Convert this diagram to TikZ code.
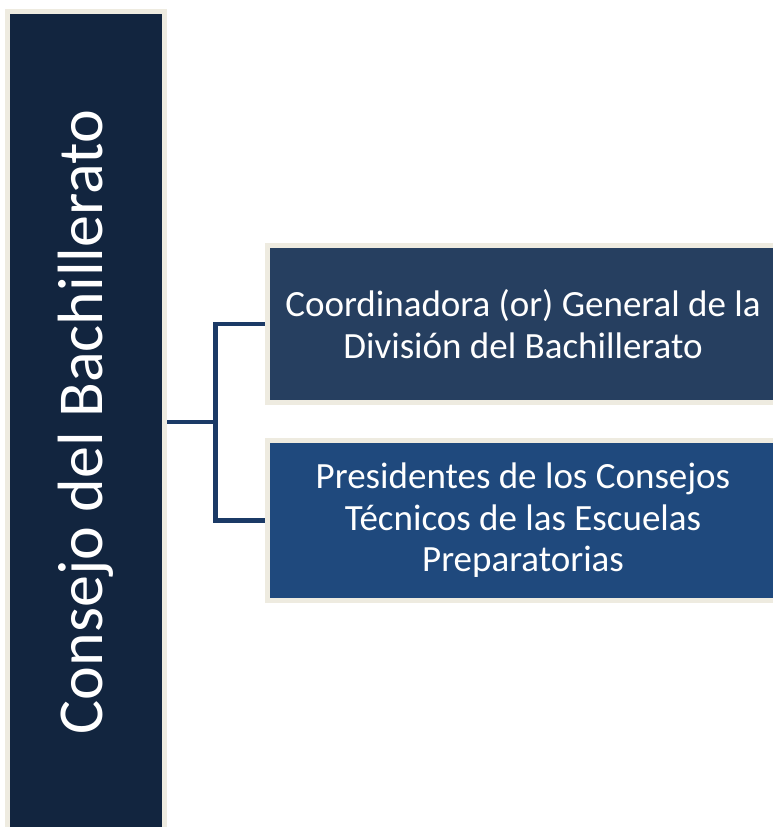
\documentclass[tikz,border=0pt]{standalone}
\usepackage{fontspec}
\setmainfont{Carlito}
\definecolor{beige}{HTML}{EEEBE0}
\definecolor{leftc}{HTML}{12253F}
\definecolor{boxa}{HTML}{263F60}
\definecolor{boxb}{HTML}{1F497D}
\definecolor{conn}{HTML}{1B3A66}
\begin{document}
\begin{tikzpicture}[x=1pt,y=-1pt,
  card/.style={draw=beige,line width=5pt,outer sep=2.5pt,inner sep=0pt,text=white,align=center,anchor=center},
  bigtxt/.style={font=\fontsize{64}{70}\selectfont},
  boxtxt/.style={font=\fontsize{37}{41.5}\selectfont},
  link/.style={draw=conn,line width=4.5pt}]
\useasboundingbox (0,0) rectangle (772,827);
\fill[white] (0,0) rectangle (772,827);
\node[card,fill=leftc,minimum width=157pt,minimum height=822pt] (council) at (86,422) {};
\node[bigtxt,text=white,rotate=90] (ctitle) at (council.center) {Consejo del Bachillerato};
\node[card,fill=boxa,minimum width=511pt,minimum height=157pt,boxtxt] (coord) at (523,324) {Coordinadora (or) General de la\\División del Bachillerato};
\node[card,fill=boxb,minimum width=511pt,minimum height=160pt,boxtxt] (pres) at (523,520.5) {Presidentes de los Consejos\\Técnicos de las Escuelas\\Preparatorias};
\coordinate (branch) at (215.5,422);
\draw[link] (council.east) -- (branch);
\draw[link] (branch) |- (coord.west);
\draw[link] (branch) |- (pres.west);
\end{tikzpicture}
\end{document}
